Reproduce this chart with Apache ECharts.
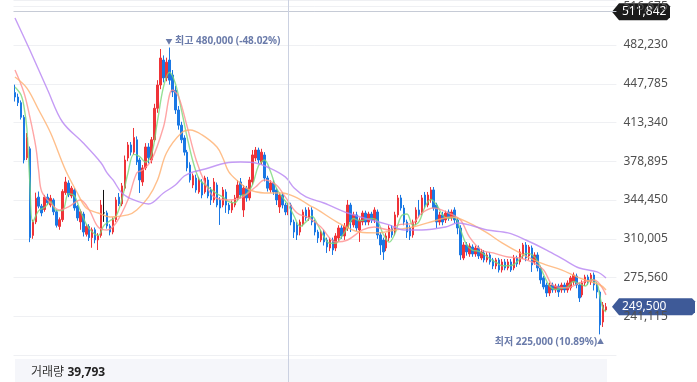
<!DOCTYPE html>
<html><head><meta charset="utf-8">
<script src="https://cdn.jsdelivr.net/npm/echarts@6/dist/echarts.min.js"></script>
<style>html,body{margin:0;padding:0;background:#fff;}#c{width:697px;height:382px;}</style>
</head><body><div id="c"></div>
<script>
// ---- data (won) ----
const categories = Array.from({length: 203}, (_, i) => String(i + 1));
const opens = [
440000,436000,431000,418000,382000,390000,313000,325000,347000,339000,
336000,347000,340000,344500,334000,321000,327000,351000,359500,348000,
353400,339000,325000,332000,314000,321000,311000,318000,309000,313000,
333000,333000,321400,316000,327000,347000,341000,355000,381800,393400,
387000,398000,380000,360500,373000,391600,380000,398000,426000,446700,
468900,453000,468900,455600,442000,424500,411000,399600,387000,375600,
357800,364000,351600,360500,351600,362300,353400,344500,357800,344500,
340000,351600,340000,335600,340000,346300,360500,335600,355000,346300,
360500,381800,388900,378300,384500,364000,353400,359600,353400,338300,
348900,340000,333800,340000,324900,322300,316000,323000,335600,328500,
335600,324900,316000,308900,316000,308900,301800,308900,301800,310700,
319600,312500,319600,340000,322300,331200,317800,324900,332900,324900,
332000,326700,333800,313400,308900,301800,310700,319600,316000,331200,
346300,337400,324900,319600,313400,324900,335600,332900,348900,340000,
344500,353400,340000,324900,331200,326700,333800,328500,335600,326700,
319600,292900,304500,296500,302700,296500,301800,292900,297400,291200,
295600,291200,285800,291200,282300,289400,284000,289400,284000,292900,
289400,294700,304500,294700,301800,289400,295600,284000,275200,268900,
261800,268900,264500,268000,264500,268900,264500,266300,271600,276900,
268900,260100,270700,276000,271600,277800,268900,262700,236000,246700];
const closes = [
436000,431000,418000,380000,400000,311000,325000,346000,339000,333000,
347000,342000,346000,334000,322000,327000,352000,360500,349000,355000,
337400,328500,334000,316000,321000,311000,318000,309000,313000,340000,
333000,321400,316000,327000,344500,341000,357000,380000,393400,387000,
400000,378300,362300,373000,391600,382000,398000,426000,446700,470700,
453000,467000,451000,440500,424500,411000,398000,387000,373000,362300,
366000,353400,362300,348900,364000,348000,344500,360500,340000,337400,
353400,340000,335600,341800,346300,357800,348900,355000,346300,362300,
384500,388900,380000,387000,364000,355000,359600,351600,344500,348900,
340000,333800,340000,324900,316000,313400,324900,333800,328500,335600,
324900,316000,310700,316000,307200,302700,308900,300000,312500,319600,
312500,321400,340000,324900,331200,319600,326700,332900,324900,332000,
326700,335600,313400,304500,298300,312500,319600,313400,331200,346300,
337400,324900,316000,312500,324900,335600,331200,346300,340000,348900,
353400,337400,324900,331200,324900,332900,328500,333800,326700,319600,
295600,304500,298300,303600,296500,301800,294700,298300,291200,295600,
289400,285800,291200,282300,289400,284000,289400,282300,292900,287600,
298300,304500,292900,302700,286700,295600,284000,273400,267200,261800,
268900,264500,268000,262700,268900,264500,270700,275200,277800,268900,
257400,270700,276000,271600,277800,268900,262700,233400,251100,249500];
const lows = [
432000,428000,416000,377000,380000,307000,310000,323000,337000,330000,
334000,340000,338000,331000,320000,318000,325000,349000,347000,346000,
335000,326000,318000,312000,312000,308000,302000,306000,300000,311000,
325000,319000,313000,314000,325000,339000,339000,353000,379000,384000,
385000,375600,350700,357000,371000,377000,377000,396000,422000,443000,
449000,450000,447000,436000,421000,407000,395000,384000,370000,360000,
355000,351000,350000,346000,350000,346000,340000,342000,338000,322300,
338000,333000,332000,333000,338000,344000,346000,329400,343000,344000,
358000,379000,377000,376000,361000,352000,351000,349000,340000,332900,
337000,331000,331000,322000,310700,308900,313000,321000,326000,326000,
322000,313000,306300,307000,304000,297400,299000,295600,299000,308000,
310000,309000,317000,316000,320000,317000,307200,322000,322000,322000,
324000,324000,310000,295600,291200,299000,308000,311000,313000,329000,
335000,322000,310700,308900,311000,322000,329000,331000,337000,338000,
342000,335000,319600,322000,322000,324000,326000,326000,324000,314000,
291200,291000,295000,294000,294000,294000,292000,291000,289000,289000,
287000,283000,283000,280000,280000,282000,282000,280500,282000,285000,
287000,292000,290000,291200,280500,287000,281000,270000,265000,258300,
259000,262000,262000,258300,262000,262000,262000,264000,269000,266000,
253800,258000,268000,269000,269000,264000,257000,225000,231600,245800];
const highs = [
447000,439000,433000,420000,404000,392000,327000,351000,352000,341000,
349000,350000,349000,346000,336000,329000,354000,365000,362000,357000,
355000,340000,336000,334000,323000,323000,320000,320000,315000,344500,
353400,335000,323000,329000,347000,350700,359600,384000,396000,396000,
408500,401000,382000,375600,395000,395000,400500,430000,451000,478700,
473000,471000,480000,460000,446000,428000,414000,402000,389000,378000,
368000,367000,365000,363000,366000,365000,356000,364000,360000,347000,
356000,354000,342000,344000,349000,362000,364000,357800,357000,365000,
388900,391600,391000,390000,387000,366000,362000,362000,355000,351000,
351000,342000,342000,342000,327000,325000,327000,336000,338000,338000,
338000,327000,318000,318000,318000,311000,311000,311000,315000,322000,
322000,324000,344500,342000,334000,334000,329000,335000,335000,334000,
334000,338000,336000,316000,311000,315000,322000,322000,334000,348900,
349000,340000,327000,322000,327000,338000,344500,348900,351600,351600,
356000,356000,342000,334000,334000,335000,336000,336000,338000,329000,
322000,307000,307000,306000,305000,304000,304000,301000,300000,298000,
298000,293000,293000,293000,292000,292000,292000,292000,295600,295000,
301000,306300,307000,304500,304000,298000,298000,286000,277000,271000,
271000,271000,270000,270000,271000,271000,273000,277000,280000,279000,
271000,273000,278000,278000,279600,280000,271000,264000,253800,252900];
const flatCandles = [30];          // black (unchanged) candle

// moving averages: [candle index, value]
const ma5 = [[0,445000],[2,438000],[3,428000],[4,408000],[5,360000],[6,325000],[8,335000],[10,338000],[12,343000],[14,335000],[16,335000],[18,350000],[20,348000],[22,335000],[24,323000],[26,316000],[28,313000],[30,322000],[32,326000],[34,330000],[36,345000],[38,368000],[40,385000],[42,383000],[44,378000],[46,385000],[48,415000],[50,445000],[52,458000],[54,448000],[56,425000],[58,400000],[60,378000],[62,363000],[64,358000],[66,354000],[68,350000],[70,347000],[72,343000],[74,342000],[76,348000],[78,350000],[80,358000],[82,375000],[84,380000],[86,370000],[88,355000],[90,347000],[92,340000],[94,330000],[96,321000],[98,325000],[100,330000],[102,322000],[104,312000],[106,306000],[108,306000],[110,312000],[112,320000],[114,328000],[116,326000],[118,327000],[120,328000],[122,326000],[124,314000],[126,307000],[128,315000],[130,330000],[132,332000],[134,322000],[136,325000],[138,338000],[140,345000],[142,340000],[144,331000],[146,328000],[148,329000],[150,318000],[152,305000],[154,300000],[156,299000],[158,296000],[160,292000],[162,289000],[164,286000],[166,286000],[168,287000],[170,292000],[172,297000],[174,296000],[176,290000],[178,278000],[180,268000],[182,265000],[184,266000],[186,267000],[188,272000],[190,270000],[192,268000],[194,274000],[196,270000],[197,258000],[198,248000],[199,245000]];
const ma20 = [[0,460000],[3,440000],[5,418300],[7,392000],[8,370000],[9,352000],[12,341800],[15,335600],[18,338300],[22,344500],[25,335600],[28,320500],[31,317800],[34,324000],[38,344500],[41,368500],[43,371100],[46,380000],[50,409400],[53,442300],[55,437000],[58,409400],[61,380000],[64,359600],[67,347200],[72,344500],[76,346300],[81,356000],[84,362300],[88,357800],[91,347200],[95,332900],[99,328500],[103,320500],[108,307200],[112,308900],[117,317800],[121,320500],[126,317800],[129,322300],[134,324000],[137,332900],[141,337400],[146,332900],[150,326700],[153,311600],[157,300000],[161,297400],[166,293800],[170,292900],[174,289400],[178,282300],[181,268900],[186,266300],[190,270700],[195,273400],[199,260100]];
const ma60 = [[0,453800],[4,444000],[8,424500],[12,404000],[17,371100],[21,350700],[24,337400],[28,332900],[32,329400],[38,331200],[41,335600],[45,347200],[48,362300],[51,386300],[56,404000],[59,406700],[63,402300],[68,391600],[70,381800],[72,369400],[75,361400],[79,353400],[84,350700],[90,350700],[95,346300],[99,340000],[102,335600],[109,324000],[116,316000],[122,315200],[128,317800],[134,320500],[140,324900],[147,329400],[153,324000],[159,315200],[164,306300],[170,297400],[177,288500],[184,282300],[190,275200],[197,268900],[199,264500]];
const ma120 = [[0,506300],[5,477800],[11,442300],[16,413800],[23,395100],[29,377400],[31,368500],[33,362300],[36,350700],[40,344500],[45,340900],[50,350700],[54,357800],[57,365800],[60,369400],[64,372000],[71,377400],[76,378300],[81,377400],[85,373800],[91,365000],[94,355100],[98,347200],[104,341800],[112,332900],[120,326700],[126,322300],[131,317800],[137,317800],[145,320500],[149,324000],[159,317800],[166,315200],[172,308900],[179,300000],[185,291200],[190,284000],[196,280500],[199,275200]];

const highPrice = 480000, highIndex = 52;
const lowPrice = 225000, lowIndex = 197;
const lastPrice = 249500;
const refLine = 511842;
const hoverIndex = 92, hoverVolume = 39793;
const yMin = 206670, yMax = 522265, yStep = 34445;

// ---- chart ----
const fmt = v => Math.round(v).toLocaleString('en-US');
const pctHigh = ((lastPrice - highPrice) / highPrice * 100).toFixed(2);
const pctLow = ((lastPrice - lowPrice) / lowPrice * 100).toFixed(2);
const FONT = "'Noto Sans','Noto Sans CJK KR',sans-serif";
const UP = '#ef3338', DOWN = '#1a78e4';

const candleData = opens.map((o, i) => {
  const v = [o, closes[i], lows[i], highs[i]];
  if (flatCandles.includes(i)) {
    return {value: v, itemStyle: {color: '#111', color0: '#111', borderColor: '#111', borderColor0: '#111'}};
  }
  return v;
});

const chart = echarts.init(document.getElementById('c'), null, {renderer: 'canvas'});
const annColor = '#6a7baa';
const maLine = (name, data, color) => ({
  name, type: 'line', data, smooth: 0.35, showSymbol: false, silent: true,
  lineStyle: {color, width: 1.4, opacity: 0.8}, z: 3
});

chart.setOption({
  animation: false,
  grid: {left: 13.5, right: 80.6, top: 0, bottom: 27},
  xAxis: {type: 'category', data: categories, boundaryGap: true, show: false},
  yAxis: {
    type: 'value', position: 'right', min: yMin, max: yMax, interval: yStep, scale: true,
    axisLine: {show: false}, axisTick: {show: false},
    splitLine: {lineStyle: {color: '#eff0f3', width: 1}},
    axisLabel: {color: '#505050', fontSize: 12, fontFamily: FONT, margin: 7,
      showMinLabel: false, showMaxLabel: false, formatter: v => fmt(v)}
  },
  series: [
    {
      type: 'candlestick', data: candleData, barWidth: 2, z: 2,
      itemStyle: {color: UP, color0: DOWN, borderColor: UP, borderColor0: DOWN, borderWidth: 1},
      markLine: {
        silent: true, symbol: 'none', animation: false,
        lineStyle: {color: '#c6cbd6', width: 1, type: 'solid'},
        label: {show: false},
        data: [{yAxis: refLine}]
      },
      markPoint: {
        symbol: 'circle', symbolSize: 0, silent: true, animation: false,
        data: [
          {coord: [highIndex, highPrice], label: {
            show: true, position: 'top', distance: 1, align: 'left', offset: [-4, 0],
            formatter: '{t|▼} 최고 ' + fmt(highPrice) + ' (' + pctHigh + '%)',
            color: annColor, fontSize: 10, fontWeight: 'bold', fontFamily: FONT,
            rich: {t: {fontSize: 7, color: annColor}}
          }},
          {coord: [lowIndex, lowPrice], label: {
            show: true, position: 'bottom', distance: 3, align: 'right', offset: [4, 0],
            formatter: '최저 ' + fmt(lowPrice) + ' (' + pctLow + '%){t|▲}',
            color: annColor, fontSize: 10, fontWeight: 'bold', fontFamily: FONT,
            rich: {t: {fontSize: 7, color: annColor}}
          }}
        ]
      }
    },
    maLine('MA5', ma5, '#79d879'),
    maLine('MA20', ma20, '#ff8f8f'),
    maLine('MA60', ma60, '#ffaf6e'),
    maLine('MA120', ma120, '#b783f2')
  ]
});

// overlays positioned through the chart's own scales
const yRef = chart.convertToPixel({yAxisIndex: 0}, refLine);
const yLast = chart.convertToPixel({yAxisIndex: 0}, lastPrice);
const xHover = Math.round(chart.convertToPixel({xAxisIndex: 0}, hoverIndex)) + 0.5;
const tag = (y, right, fill, text) => ({
  type: 'group', z: 100, children: [
    {type: 'polygon', shape: {points: [[612, y], [619, y - 8.5], [right - 3, y - 8.5], [right, y - 5.5], [right, y + 5.5], [right - 3, y + 8.5], [619, y + 8.5]]},
     style: {fill}},
    {type: 'text', x: 622, y: y, style: {text, fill: '#fff', fontSize: 12, fontFamily: FONT, verticalAlign: 'middle', align: 'left'}}
  ]
});
chart.setOption({
  graphic: [
    {type: 'rect', z: -1, shape: {x: 15, y: 359, width: 592, height: 23}, style: {fill: '#f5f6fa'}},
    {type: 'line', z: 50, shape: {x1: xHover, y1: 0, x2: xHover, y2: 382}, style: {stroke: '#cbd1e1', lineWidth: 1}},
    {type: 'text', z: 60, x: 31, y: 372.5, style: {
      text: '{a|거래량} {b|' + fmt(hoverVolume) + '}', verticalAlign: 'middle',
      rich: {a: {fontSize: 12, fill: '#333', fontFamily: FONT}, b: {fontSize: 12, fill: '#222', fontWeight: 'bold', fontFamily: FONT}}
    }},
    tag(yRef, 670, '#1b1b1b', fmt(refLine)),
    tag(yLast, 695, '#3e5a98', fmt(lastPrice))
  ]
});
</script></body></html>
